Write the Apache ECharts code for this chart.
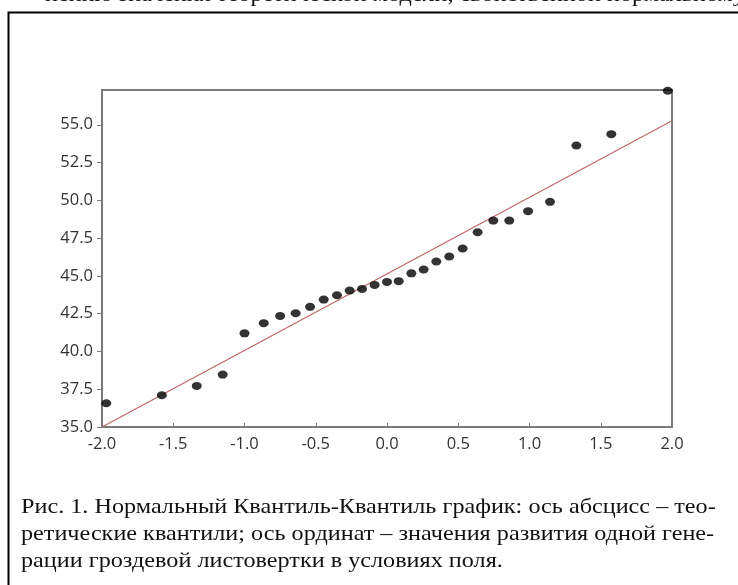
<!DOCTYPE html>
<html>
<head>
<meta charset="utf-8">
<script src="https://cdn.jsdelivr.net/npm/echarts@6/dist/echarts.min.js"></script>
<style>
  html, body { margin: 0; padding: 0; background: #fff; }
  #chart { width: 738px; height: 585px; }
</style>
</head>
<body>
<div id="chart"></div>
<script>
var quantiles = [-1.97, -1.58, -1.335, -1.153, -1.0, -0.865, -0.75, -0.641, -0.54, -0.444,
    -0.351, -0.262, -0.175, -0.087, 0.0, 0.082, 0.171, 0.257, 0.346, 0.437,
    0.531, 0.636, 0.746, 0.858, 0.99, 1.144, 1.329, 1.574, 1.97];
var observed = [36.57, 37.1, 37.72, 38.47, 41.2, 41.87, 42.35, 42.53, 42.95, 43.43,
    43.72, 44.03, 44.14, 44.4, 44.6, 44.65, 45.17, 45.42, 45.95, 46.28,
    46.81, 47.89, 48.66, 48.66, 49.28, 49.9, 53.63, 54.38, 57.25];
// reference line ends
var lineX = [-2.0, 2.0];
var lineY = [35.0, 55.27];
var yTicks = [35, 37.5, 40, 42.5, 45, 47.5, 50, 52.5, 55];

var caption = [
    'Рис. 1. Нормальный Квантиль-Квантиль график: ось абсцисс – тео-',
    'ретические квантили; ось ординат – значения развития одной гене-',
    'рации гроздевой листовертки в условиях поля.'
];
var topText = 'нению значения теоретической модели, свойственной нормальному распределению';

var chart = echarts.init(document.getElementById('chart'));

var points = quantiles.map(function (q, i) { return [q, observed[i]]; });
var line = lineX.map(function (x, i) { return [x, lineY[i]]; });

var serif = '"Liberation Serif", "Times New Roman", serif';
var graphics = [
    {
        type: 'rect', left: 6, top: 10, z: 0,
        shape: { x: 0, y: 0, width: 900, height: 700 },
        style: { fill: 'none', stroke: '#000', lineWidth: 2 }
    },
    {
        // top line of the page, mostly cut off
        type: 'text', x: 45, y: 6, scaleX: 1.1,
        style: { text: topText, font: '22px ' + serif, fill: '#111', verticalAlign: 'bottom' }
    }
];
caption.forEach(function (t, i) {
    graphics.push({
        type: 'text', x: 21, y: 507 + i * 27, scaleX: 1.1,
        style: { text: t, font: '22px ' + serif, fill: '#111', verticalAlign: 'middle' }
    });
});

var labelStyle = {
    margin: 9, color: '#333', fontSize: 16.5, fontFamily: 'Open Sans',
    formatter: function (v) { return v.toFixed(1); }
};

var option = {
    animation: false,
    backgroundColor: '#fff',
    grid: {
        left: 102, top: 90, right: 66, bottom: 158,
        show: true, borderColor: '#7a7a7a', borderWidth: 2, backgroundColor: 'transparent'
    },
    xAxis: {
        type: 'value', min: -2, max: 2, interval: 0.5,
        splitLine: { show: false },
        axisLine: { onZero: false, lineStyle: { color: '#7a7a7a', width: 2 } },
        axisTick: { inside: true, length: 4, lineStyle: { color: '#7a7a7a' } },
        axisLabel: labelStyle
    },
    yAxis: {
        type: 'value', min: 35, max: 57.3,
        splitLine: { show: false },
        axisLine: { show: true, onZero: false, lineStyle: { color: '#7a7a7a', width: 2 } },
        axisTick: { show: true, length: 5, customValues: yTicks, lineStyle: { color: '#7a7a7a' } },
        axisLabel: Object.assign({}, labelStyle, { customValues: yTicks })
    },
    series: [
        {
            type: 'line', data: line, showSymbol: false, z: 2,
            lineStyle: { color: '#c0666a', width: 1.2 }
        },
        {
            type: 'scatter', data: points, symbol: 'circle', symbolSize: [10, 8], z: 3,
            clip: false,
            itemStyle: { color: '#000' }
        }
    ],
    graphic: graphics
};
chart.setOption(option);
</script>
</body>
</html>
